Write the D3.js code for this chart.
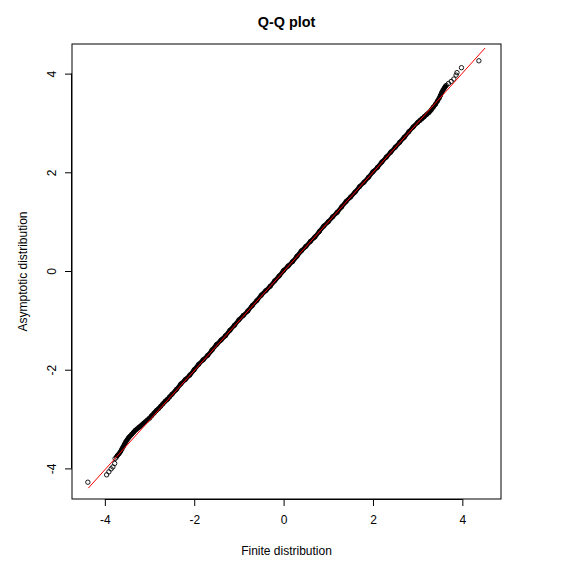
<!DOCTYPE html>
<html>
<head>
<meta charset="utf-8">
<script src="https://cdn.jsdelivr.net/npm/d3@7"></script>
<style>
  html, body { margin: 0; padding: 0; background: #fff; }
  svg { display: block; font-family: "Liberation Sans", Arial, Helvetica, sans-serif; }
</style>
</head>
<body>
<svg id="chart" width="573" height="572"></svg>
<script>
// ---- data ----
const finiteQ = [
  -4.38, -3.96, -3.91, -3.86, -3.82, -3.78, -3.77, -3.74,
  -3.72, -3.68, -3.65, -3.62, -3.59, -3.56, -3.53, -3.50, -3.47, -3.44,
  -3.40, -3.36, -3.32, -3.28, -3.24, -3.20, -3.15, -3.10, -3.05, -3.00,
  -2.95, -2.90, -2.85, -2.80, -2.75, -2.70, -2.65, -2.60, -2.55, -2.50,
  -2.40, -2.30, -2.20, -2.10, -2.00, -1.90, -1.80, -1.70, -1.60, -1.50,
  -1.40, -1.30, -1.20, -1.10, -1.00, -0.90, -0.80, -0.70, -0.60, -0.50,
  -0.40, -0.30, -0.20, -0.10, 0.00, 0.10, 0.20, 0.30, 0.40, 0.50,
  0.60, 0.70, 0.80, 0.90, 1.00, 1.10, 1.20, 1.30, 1.40, 1.50,
  1.60, 1.70, 1.80, 1.90, 2.00, 2.10, 2.20, 2.30, 2.40, 2.50,
  2.60, 2.70, 2.80, 2.90, 3.00, 3.05, 3.10, 3.15, 3.20, 3.25,
  3.30, 3.35, 3.40, 3.44, 3.48, 3.51, 3.54, 3.57, 3.60, 3.62,
  3.64, 3.69, 3.75, 3.81, 3.86, 3.88, 3.98, 4.37
];
const asymptoticQ = [
  -4.28, -4.13, -4.07, -4.01, -3.97, -3.90, -3.80, -3.77,
  -3.74, -3.70, -3.66, -3.61, -3.56, -3.51, -3.46, -3.42, -3.38, -3.35,
  -3.31, -3.27, -3.23, -3.20, -3.17, -3.14, -3.10, -3.06, -3.02, -2.98,
  -2.93, -2.88, -2.83, -2.79, -2.74, -2.69, -2.64, -2.60, -2.55, -2.50,
  -2.40, -2.29, -2.20, -2.11, -2.00, -1.89, -1.80, -1.71, -1.60, -1.49,
  -1.40, -1.31, -1.20, -1.10, -0.99, -0.90, -0.81, -0.70, -0.60, -0.49,
  -0.40, -0.31, -0.20, -0.10, 0.01, 0.10, 0.19, 0.30, 0.41, 0.50,
  0.60, 0.69, 0.80, 0.91, 1.00, 1.10, 1.19, 1.30, 1.41, 1.50,
  1.60, 1.71, 1.80, 1.90, 2.01, 2.10, 2.21, 2.31, 2.41, 2.51,
  2.61, 2.71, 2.82, 2.92, 3.01, 3.05, 3.09, 3.13, 3.17, 3.21,
  3.26, 3.32, 3.38, 3.44, 3.50, 3.56, 3.62, 3.67, 3.71, 3.74,
  3.76, 3.80, 3.84, 3.89, 3.97, 4.02, 4.12, 4.26
];
// reference line end points
const refLineX = [-4.37, 4.51];
const refLineY = [-4.40, 4.52];
// overplotted (solid) part of the sample, in data units of finiteQ
const denseRange = [-3.73, 3.63];
const xTicks = [-4, -2, 0, 2, 4];
const yTicks = [-4, -2, 0, 2, 4];
const xLimits = [-4.735, 4.865];
const yLimits = [-4.62, 4.60];
const titleText = "Q-Q plot";
const xLabel = "Finite distribution";
const yLabel = "Asymptotic distribution";

// ---- layout ----
const plot = { left: 72, right: 501, top: 44, bottom: 499 };
const svg = d3.select("#chart");

const x = d3.scaleLinear().domain(xLimits).range([plot.left, plot.right]);
const y = d3.scaleLinear().domain(yLimits).range([plot.bottom, plot.top]);
const fmt = d => String(d);

const pts = finiteQ.map((v, i) => ({ x: v, y: asymptoticQ[i] }));

// title
svg.append("text")
  .attr("x", (plot.left + plot.right) / 2)
  .attr("y", 27)
  .attr("text-anchor", "middle")
  .attr("font-size", 14.4)
  .attr("font-weight", "bold")
  .text(titleText);

// box
svg.append("rect")
  .attr("x", plot.left).attr("y", plot.top)
  .attr("width", plot.right - plot.left).attr("height", plot.bottom - plot.top)
  .attr("fill", "none").attr("stroke", "#000").attr("stroke-width", 1);

// axes
const xAxis = d3.axisBottom(x).tickValues(xTicks).tickSize(7).tickPadding(9).tickFormat(fmt);
const gx = svg.append("g").attr("transform", `translate(0,${plot.bottom})`).call(xAxis);
gx.select(".domain").attr("d", `M${x(xTicks[0])},0.5H${x(xTicks[xTicks.length - 1])}`).attr("stroke", "#000");
gx.selectAll(".tick line").attr("stroke", "#000");
gx.selectAll("text").attr("font-size", 12).attr("font-family", "Liberation Sans, Arial, sans-serif").attr("fill", "#000");

const yAxis = d3.axisLeft(y).tickValues(yTicks).tickSize(7).tickFormat(fmt);
const gy = svg.append("g").attr("transform", `translate(${plot.left},0)`).call(yAxis);
gy.select(".domain").attr("d", `M-0.5,${y(yTicks[0])}V${y(yTicks[yTicks.length - 1])}`).attr("stroke", "#000");
gy.selectAll(".tick line").attr("stroke", "#000");
gy.selectAll(".tick text")
  .attr("x", null).attr("dy", null)
  .attr("text-anchor", "middle")
  .attr("dominant-baseline", "central")
  .attr("transform", "translate(-20.5,0) rotate(-90)")
  .attr("font-size", 12).attr("font-family", "Liberation Sans, Arial, sans-serif").attr("fill", "#000");

// axis titles
svg.append("text")
  .attr("x", (plot.left + plot.right) / 2)
  .attr("y", 555)
  .attr("text-anchor", "middle")
  .attr("font-size", 12)
  .text(xLabel);
svg.append("text")
  .attr("transform", `translate(23,${(plot.top + plot.bottom) / 2}) rotate(-90)`)
  .attr("text-anchor", "middle")
  .attr("dominant-baseline", "central")
  .attr("font-size", 12)
  .text(yLabel);

// overplotted body of the sample (solid band of overlapping circles)
const dense = pts.filter(p => p.x >= denseRange[0] && p.x <= denseRange[1]);
svg.append("path")
  .datum(dense)
  .attr("d", d3.line().x(d => x(d.x)).y(d => y(d.y)).curve(d3.curveMonotoneX))
  .attr("fill", "none").attr("stroke", "#000")
  .attr("stroke-width", 4.4).attr("stroke-linecap", "round").attr("stroke-linejoin", "round");

// points
svg.append("g").selectAll("circle")
  .data(pts).join("circle")
  .attr("cx", d => x(d.x)).attr("cy", d => y(d.y))
  .attr("r", 2.2)
  .attr("fill", "none").attr("stroke", "#000").attr("stroke-width", 0.9);

// reference line
svg.append("line")
  .attr("x1", x(refLineX[0])).attr("y1", y(refLineY[0]))
  .attr("x2", x(refLineX[1])).attr("y2", y(refLineY[1]))
  .attr("stroke", "#ff0000").attr("stroke-width", 1);
</script>
</body>
</html>
